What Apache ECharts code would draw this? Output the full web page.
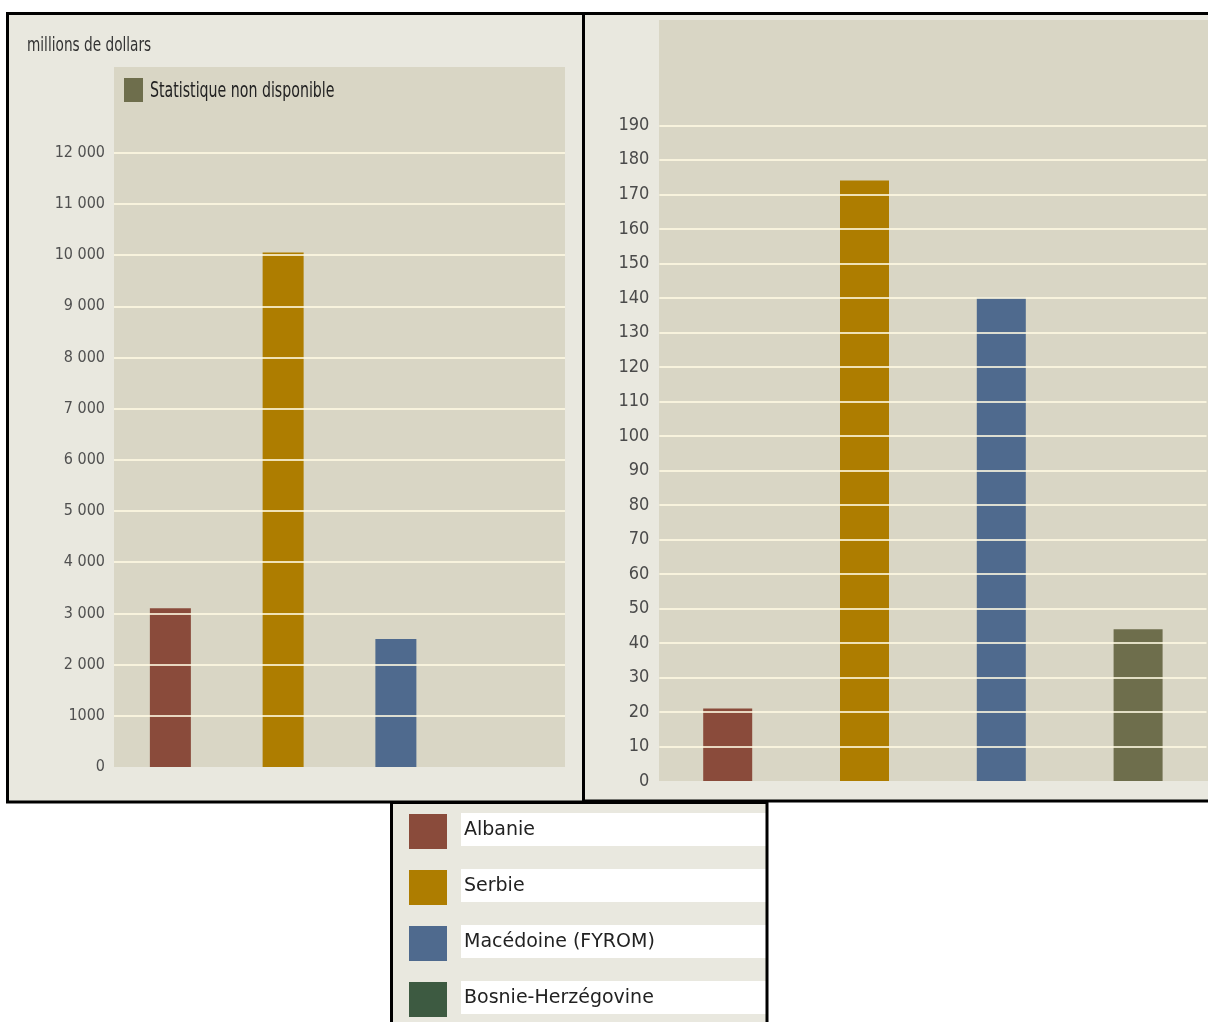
<!DOCTYPE html>
<html>
<head>
<meta charset="utf-8">
<script src="https://cdn.jsdelivr.net/npm/echarts@6/dist/echarts.min.js"></script>
<style>
html,body{margin:0;padding:0;background:#ffffff;}
#chart{width:1208px;height:1022px;}
</style>
</head>
<body>
<div id="chart"></div>
<script>
// ---- data ----
const countries = ['Albanie', 'Serbie', 'Macédoine (FYROM)', 'Bosnie-Herzégovine'];
const leftValues = [3100, 10050, 2500, null];       // millions de dollars (Bosnie: non disponible)
const rightValues = [21, 174, 140, 44];
const leftTickLabels = ['0', '1000', '2 000', '3 000', '4 000', '5 000', '6 000', '7 000', '8 000', '9 000', '10 000', '11 000', '12 000'];
const legendColors = ['#8a4b3b', '#ae7d00', '#4f6a8e', '#3d5a41'];
const leftBarColors = ['#8a4b3b', '#ae7d00', '#4f6a8e', '#6e6e4c'];
const rightBarColors = ['#8a4b3b', '#ae7d00', '#4f6a8e', '#6e6e4c'];
const unitLabel = 'millions de dollars';
const naLabel = 'Statistique non disponible';
const naColor = '#6e6e4c';

// ---- style ----
const PANEL_BG = '#e9e8df';
const PLOT_BG = '#d9d6c5';
const GRID_LINE = 'rgba(255,250,226,0.8)';
const NARROW = '"Liberation Sans Narrow", "DejaVu Sans Condensed", "Arial Narrow", sans-serif';

const chart = echarts.init(document.getElementById('chart'), null, {renderer: 'canvas'});

const graphics = [
  // left panel
  {type: 'rect', z: -20, shape: {x: 7.5, y: 13.5, width: 576, height: 788.5},
   style: {fill: PANEL_BG, stroke: '#000', lineWidth: 3}},
  // right panel
  {type: 'rect', z: -20, shape: {x: 583.5, y: 13.5, width: 640, height: 787.5},
   style: {fill: PANEL_BG, stroke: '#000', lineWidth: 3}},
  // plot backgrounds
  {type: 'rect', z: -10, shape: {x: 114, y: 67, width: 451, height: 700}, style: {fill: PLOT_BG}},
  {type: 'rect', z: -10, shape: {x: 659, y: 20, width: 560, height: 761}, style: {fill: PLOT_BG}},
  // unit label
  {type: 'text', z: 5, x: 27, y: 46, scaleX: 0.8,
   style: {text: unitLabel, font: '19px ' + NARROW, fill: '#333', verticalAlign: 'middle'}},
  // "not available" legend
  {type: 'rect', z: 5, shape: {x: 124, y: 78, width: 19, height: 24}, style: {fill: naColor}},
  {type: 'text', z: 5, x: 150, y: 92, scaleX: 0.75,
   style: {text: naLabel, font: '21px ' + NARROW, fill: '#222', verticalAlign: 'middle'}},
  // bottom legend box background
  {type: 'rect', z: -20, shape: {x: 391.5, y: 802.5, width: 375.5, height: 240}, style: {fill: PANEL_BG}},
  // bottom legend box border (on top)
  {type: 'rect', z: 10, shape: {x: 391.5, y: 802.5, width: 375.5, height: 240},
   style: {fill: null, stroke: '#000', lineWidth: 3}}
];
countries.forEach((name, i) => {
  const y0 = 814 + i * 56;
  graphics.push({type: 'rect', z: 5, shape: {x: 409, y: y0, width: 38, height: 35}, style: {fill: legendColors[i]}});
  graphics.push({type: 'rect', z: 4, shape: {x: 461, y: y0 - 1, width: 306, height: 33}, style: {fill: '#ffffff'}});
  graphics.push({type: 'text', z: 6, x: 464, y: y0 + 16, style: {text: name, font: '19px "DejaVu Sans", sans-serif', fill: '#222', verticalAlign: 'middle'}});
});

const option = {
  backgroundColor: '#ffffff',
  animation: false,
  graphic: graphics,
  grid: [
    {left: 114, width: 451, top: 152.7, bottom: 1022 - 767, containLabel: false},
    {left: 659.3, width: 547.2, top: 125.3, bottom: 1022 - 781, containLabel: false}
  ],
  xAxis: [
    {type: 'category', gridIndex: 0, data: countries, axisLine: {show: false}, axisTick: {show: false}, axisLabel: {show: false}},
    {type: 'category', gridIndex: 1, data: countries, axisLine: {show: false}, axisTick: {show: false}, axisLabel: {show: false}}
  ],
  yAxis: [
    {type: 'value', gridIndex: 0, min: 0, max: 12000, interval: 1000, z: 3,
     axisLine: {show: false}, axisTick: {show: false},
     axisLabel: {margin: 9, color: '#505050', fontSize: 16, fontFamily: NARROW,
       formatter: v => leftTickLabels[Math.round(v / 1000)]},
     splitLine: {show: true, showMinLine: false, lineStyle: {color: GRID_LINE, width: 2}}},
    {type: 'value', gridIndex: 1, min: 0, max: 190, interval: 10, z: 3,
     axisLine: {show: false}, axisTick: {show: false},
     axisLabel: {margin: 10, color: '#4a4a4a', fontSize: 18, fontFamily: NARROW},
     splitLine: {show: true, showMinLine: false, lineStyle: {color: GRID_LINE, width: 2}}}
  ],
  series: [
    {type: 'bar', xAxisIndex: 0, yAxisIndex: 0, barWidth: 41, z: 2,
     data: leftValues.map((v, i) => ({value: v, itemStyle: {color: leftBarColors[i]}}))},
    {type: 'bar', xAxisIndex: 1, yAxisIndex: 1, barWidth: 49, z: 2,
     data: rightValues.map((v, i) => ({value: v, itemStyle: {color: rightBarColors[i]}}))}
  ]
};
chart.setOption(option);
</script>
</body>
</html>
